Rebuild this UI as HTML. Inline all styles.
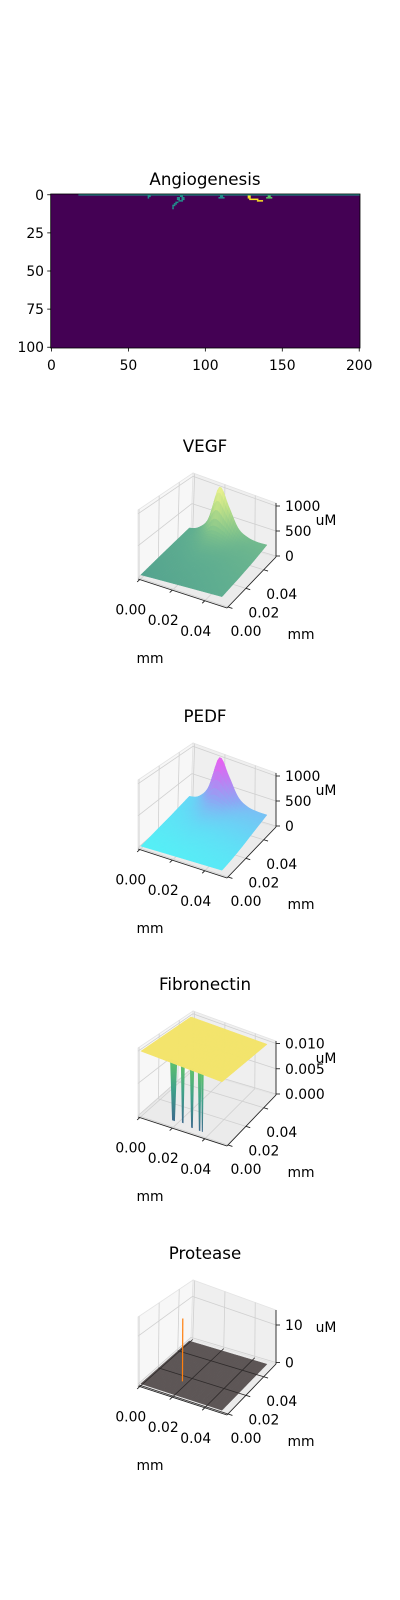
<!DOCTYPE html>
<html><head><meta charset="utf-8"><style>
html,body{margin:0;padding:0;background:#fff;}
svg{display:block;font-family:"DejaVu Sans","Liberation Sans",sans-serif;}
</style></head><body>
<svg id="fig" width="400" height="1600" viewBox="0 0 400 1600" xmlns="http://www.w3.org/2000/svg">
<rect x="0" y="0" width="400" height="1600" fill="#fff"/>
<g id="heat"></g>
<g id="p0"></g>
<g id="p1"></g>
<g id="p2"></g>
<g id="p3"></g>
</svg>
<script>
// ---- heatmap data (runs of nonzero cells: x0, x1, row, value) ----
const heatRunX0 = [18,63,63,84,82,85,82,85,83,81,80,79,79,79,110,109,128,128,129,134,141,140];
const heatRunX1 = [200,64,63,85,83,86,83,86,85,82,81,80,79,79,111,112,129,129,134,137,142,143];
const heatRunY  = [0,1,2,1,2,2,3,3,4,5,6,7,8,9,1,2,1,2,3,4,1,2];
const heatRunV  = [0.5,0.5,0.5,0.5,0.5,0.5,0.5,0.5,0.5,0.5,0.5,0.5,0.5,0.5,0.5,0.5,1,1,1,1,0.75,0.75];
const heatXTicks = [0,50,100,150,200];
const heatYTicks = [0,25,50,75,100];

// ---- surface data: rows are y index 0..8 (y = 0..0.05 mm), columns x index 0..8 ----
const gridX = [0,0.00625,0.0125,0.01875,0.025,0.03125,0.0375,0.04375,0.05];
const gridY = [0,0.00625,0.0125,0.01875,0.025,0.03125,0.0375,0.04375,0.05];
const vegfGrid = [
 [40,50,60,70,80,90,100,110,120],
 [50,60,70,80,90,100,110,120,130],
 [60,70,80,92,100,110,120,130,140],
 [70,80,92,105,112,120,130,140,150],
 [80,92,108,125,130,135,145,155,165],
 [90,105,130,160,160,155,160,170,180],
 [100,125,170,240,230,195,185,190,200],
 [110,150,250,420,380,270,220,215,225],
 [120,190,420,1050,750,400,280,245,250]
];
const pedfGrid = [
 [20,25,30,35,40,45,50,55,60],
 [30,35,40,45,50,55,60,65,70],
 [45,50,55,62,65,70,75,80,85],
 [60,65,75,85,88,90,95,100,105],
 [75,85,100,115,115,115,120,125,130],
 [90,105,135,165,160,150,150,155,160],
 [110,135,185,250,235,195,185,185,190],
 [130,165,275,440,390,280,230,220,220],
 [150,210,450,1040,760,420,290,255,250]
];
const fibroGrid = [
 [0.01,0.01,0.01,0.01,0.01,0.01,0.01,0.01,0.01],
 [0.01,0.01,0.01,0.01,0.01,0.01,0.01,0.01,0.01],
 [0.01,0.01,0.01,0.01,0.01,0.01,0.01,0.01,0.01],
 [0.01,0.01,0.01,0.01,0.01,0.01,0.01,0.01,0.01],
 [0.01,0.01,0.01,0.01,0.01,0.01,0.01,0.01,0.01],
 [0.01,0.01,0.01,0.01,0.01,0.01,0.01,0.01,0.01],
 [0.01,0.01,0.01,0.01,0.01,0.01,0.01,0.01,0.01],
 [0.01,0.01,0.01,0.01,0.01,0.01,0.01,0.01,0.01],
 [0.01,0.01,0.01,0.01,0.01,0.01,0.01,0.01,0.01]
];
const fibroDipX = [0.0175,0.0238,0.0295,0.0345,0.0362];
const fibroDipY = [0.0045,0.0035,0.0035,0.003,0.003];
const fibroDipZ = [0.0,0.0003,0.0,0.0,0.0];
const fibroDipW = [0.0022,0.0012,0.0013,0.0011,0.0008];
const proteaseGrid = [
 [0,0,0,0,0,0,0,0,0],[0,0,0,0,0,0,0,0,0],[0,0,0,0,0,0,0,0,0],
 [0,0,0,0,0,0,0,0,0],[0,0,0,0,0,0,0,0,0],[0,0,0,0,0,0,0,0,0],
 [0,0,0,0,0,0,0,0,0],[0,0,0,0,0,0,0,0,0],[0,0,0,0,0,0,0,0,0]
];
const proteaseSpikeX = [0.0178];
const proteaseSpikeY = [0.0135];
const proteaseSpikeZ = [14];
const xyTicks = [0,0.02,0.04];
const xyTickLabels = ["0.00","0.02","0.04"];
const vegfZTicks = [0,500,1000];
const pedfZTicks = [0,500,1000];
const fibroZTicks = [0,0.005,0.010];
const fibroZLabels = ["0.000","0.005","0.010"];
const proteaseZTicks = [0,10];

const NS = "http://www.w3.org/2000/svg";
function mk(tag, attrs, parent){ const e=document.createElementNS(NS,tag); for(const k in attrs) e.setAttribute(k,attrs[k]); parent.appendChild(e); return e; }
function hex(c){return [parseInt(c.slice(1,3),16),parseInt(c.slice(3,5),16),parseInt(c.slice(5,7),16)];}
function cmap(stops, t){ t=Math.max(0,Math.min(1,t));
  for(let i=1;i<stops.length;i++){ if(t<=stops[i][0]){ const a=stops[i-1],b=stops[i]; const f=(t-a[0])/(b[0]-a[0]); const ca=hex(a[1]),cb=hex(b[1]);
    return "rgb("+ca.map((v,k)=>Math.round(v+(cb[k]-v)*f)).join(",")+")"; } }
  return stops[stops.length-1][1]; }
const viridis=[[0,"#440154"],[0.25,"#3b528b"],[0.5,"#21918c"],[0.75,"#5ec962"],[1,"#fde725"]];

// ---------- heatmap ----------
(function(){
  const g=document.getElementById("heat");
  const X0=50.7,X1=360,Y0=194,Y1=348;
  const sx=v=>X0+(v+0.5)/201*(X1-X0), sy=v=>Y0+(v+0.5)/101*(Y1-Y0);
  const t=mk("text",{x:205,y:185,"text-anchor":"middle","font-size":"16.7"},g); t.textContent="Angiogenesis";
  
  
  const bg=mk("rect",{x:X0,y:Y0,width:X1-X0,height:Y1-Y0,fill:"#440154"},g);
  
  
  for(let i=0;i<heatRunX0.length;i++){
    const r=mk("rect",{x:sx(heatRunX0[i]-0.5),y:sy(heatRunY[i]-0.5),width:sx(heatRunX1[i]+0.5)-sx(heatRunX0[i]-0.5),height:sy(0.5)-sy(-0.5),fill:cmap(viridis,heatRunV[i])},g);
    
    
  }
  const fr=mk("rect",{x:X0,y:Y0,width:X1-X0,height:Y1-Y0,fill:"none",stroke:"#000","stroke-width":0.8},g);
  
  
  heatXTicks.forEach(v=>{ const x=sx(v);
    mk("line",{x1:x,y1:Y1,x2:x,y2:Y1+3.5,stroke:"#000","stroke-width":0.8},g);
    const tx=mk("text",{x:x,y:370,"text-anchor":"middle","font-size":"13.9"},g); tx.textContent=v;
    
    
  });
  heatYTicks.forEach(v=>{ const y=sy(v);
    mk("line",{x1:X0,y1:y,x2:X0-3.5,y2:y,stroke:"#000","stroke-width":0.8},g);
    const tx=mk("text",{x:44,y:y+5,"text-anchor":"end","font-size":"13.9"},g); tx.textContent=v;
    
    
  });
})();

// ---------- 3D panels ----------
const L=[138,579],F=[227,608],R=[276,557],B=[191,532];
const Lt=[138,510],Ft=[227,544],Rt=[276,503],Bt=[193,473];
function bil(a,b,c,d,u,v,k){return a[k]*(1-u)*(1-v)+b[k]*u*(1-v)+c[k]*u*v+d[k]*(1-u)*v;}
function proj(dy,u,v,w){
  const fx=bil(L,F,R,B,u,v,0), fy=bil(L,F,R,B,u,v,1);
  const tx=bil(Lt,Ft,Rt,Bt,u,v,0), ty=bil(Lt,Ft,Rt,Bt,u,v,1);
  return [fx+(tx-fx)*w, fy+(ty-fy)*w+dy];
}
const XMIN=-0.0011, XMAX=0.0537;
const su=x=>(x-XMIN)/(XMAX-XMIN);
function pts(a){return a.map(p=>p[0].toFixed(2)+","+p[1].toFixed(2)).join(" ");}

function cr(p0,p1,p2,p3,t){ // Catmull-Rom
  return 0.5*((2*p1)+(-p0+p2)*t+(2*p0-5*p1+4*p2-p3)*t*t+(-p0+3*p1-3*p2+p3)*t*t*t);
}
function interp(grid,fx,fy){
  const nx=grid[0].length, ny=grid.length;
  const i=Math.min(Math.floor(fx),nx-2), j=Math.min(Math.floor(fy),ny-2);
  const a=fx-i,b=fy-j;
  const gv=(jj,ii)=>grid[Math.max(0,Math.min(ny-1,jj))][Math.max(0,Math.min(nx-1,ii))];
  const rows=[-1,0,1,2].map(d=>cr(gv(j+d,i-1),gv(j+d,i),gv(j+d,i+1),gv(j+d,i+2),a));
  return cr(rows[0],rows[1],rows[2],rows[3],b);
}

function panel(cfg){
  const g=document.getElementById(cfg.id), dy=cfg.dy;
  const sw=z=>(z-cfg.zmin)/(cfg.zmax-cfg.zmin);
  const P=(u,v,w)=>proj(dy,u,v,w);
  const title=mk("text",{x:205,y:452+dy,"text-anchor":"middle","font-size":"16.7"},g); title.textContent=cfg.title;
  
  
  const lp=mk("polygon",{points:pts([P(0,0,0),P(0,1,0),P(0,1,1),P(0,0,1)]),fill:"#f7f7f7",stroke:"#e4e4e4","stroke-width":0.8},g);
  
  
  const bp=mk("polygon",{points:pts([P(0,1,0),P(1,1,0),P(1,1,1),P(0,1,1)]),fill:"#efefef",stroke:"#e4e4e4","stroke-width":0.8},g);
  
  
  const fp=mk("polygon",{points:pts([P(0,0,0),P(1,0,0),P(1,1,0),P(0,1,0)]),fill:"#ebebeb",stroke:"#e4e4e4","stroke-width":0.8},g);
  
  
  const grid=(a,b,col)=>mk("line",{x1:a[0],y1:a[1],x2:b[0],y2:b[1],stroke:col||"#d0d0d0","stroke-width":0.8},g);
  const zt=cfg.zticks.map(sw);
  xyTicks.forEach(t=>{const u=su(t); grid(P(u,1,0),P(u,1,1)); grid(P(0,u,0),P(0,u,1));});
  zt.forEach(w=>{grid(P(0,0,w),P(0,1,w)); grid(P(0,1,w),P(1,1,w));});
  const floorGrid=col=>xyTicks.forEach(t=>{const u=su(t); grid(P(u,0,0),P(u,1,0),col); grid(P(0,u,0),P(1,u,0),col);});
  floorGrid();
  if(cfg.dips){
    for(let k=0;k<fibroDipX.length;k++){
      const u=su(fibroDipX[k]), v=su(fibroDipY[k]), hw=fibroDipW[k]/(XMAX-XMIN);
      const top=sw(0.0098), bot=sw(fibroDipZ[k]);
      const gid=cfg.slug+"g"+k;
      const lg=mk("linearGradient",{id:gid,x1:0,y1:0,x2:0,y2:1},g);
      mk("stop",{offset:0,"stop-color":"#62c46a"},lg); mk("stop",{offset:0.5,"stop-color":"#3fa08a"},lg); mk("stop",{offset:1,"stop-color":"#3c6a8c"},lg);
      const sp=mk("polygon",{points:pts([P(u-hw,v,top),P(u+hw,v,top),P(u+hw*0.4,v,bot),P(u-hw*0.4,v,bot)]),fill:"url(#"+gid+")"},g);
      
      
    }
  }
  const data=cfg.grid, nx=gridX.length-1, ny=gridY.length-1, S=5;
  const quads=[];
  for(let j=0;j<ny*S;j++) for(let i=0;i<nx*S;i++){
    const c=[[i,j],[i+1,j],[i+1,j+1],[i,j+1]].map(([a,b])=>{
      const fx=a/S, fy=b/S;
      const x=gridX[0]+(gridX[nx]-gridX[0])*fx/nx, y=gridY[0]+(gridY[ny]-gridY[0])*fy/ny;
      return {u:su(x),v:su(y),z:interp(data,fx,fy)};
    });
    const zavg=c.reduce((s,p)=>s+p.z,0)/4;
    quads.push({c,zavg,key:(c[0].u+c[2].u)/2-(c[0].v+c[2].v)/2});
  }
  quads.sort((a,b)=>a.key-b.key);
  const sg=mk("g",{},g);
  
  
  quads.forEach(q=>{
    const col=cfg.color(q.zavg);
    const p=mk("polygon",{points:pts(q.c.map(p=>P(p.u,p.v,sw(p.z)))),fill:col,stroke:col,"stroke-width":0.5,"stroke-linejoin":"round"},sg);
    
    
  });
  if(cfg.darkGrid) floorGrid("#2e2a2a");
  if(cfg.spikes){
    for(let k=0;k<proteaseSpikeX.length;k++){
      const u=su(proteaseSpikeX[k]), v=su(proteaseSpikeY[k]);
      const a=P(u,v,sw(0)), b=P(u,v,sw(proteaseSpikeZ[k]));
      const ln=mk("line",{x1:a[0],y1:a[1],x2:b[0],y2:b[1],stroke:"#ff7f0e","stroke-width":1.2},g);
      
      
    }
  }
  const ax=(a,b,name)=>{const l=mk("line",{x1:a[0],y1:a[1],x2:b[0],y2:b[1],stroke:"#222","stroke-width":0.9},g);  };
  ax(P(0,0,0),P(1,0,0),cfg.slug+'-x-axis');
  ax(P(1,0,0),P(1,1,0),cfg.slug+'-y-axis');
  ax(P(1,1,0),P(1,1,1),cfg.slug+'-z-axis');
  xyTicks.forEach((t,k)=>{const u=su(t);
    const a=P(u,0,0), b=P(u,-0.05,0); mk("line",{x1:a[0],y1:a[1],x2:b[0],y2:b[1],stroke:"#222","stroke-width":0.9},g);
    const tx=mk("text",{x:a[0]-9,y:a[1]+35,"text-anchor":"middle","font-size":"13.9"},g); tx.textContent=xyTickLabels[k];
    
    
    const c=P(1,u,0), d=P(1.05,u,0); mk("line",{x1:c[0],y1:c[1],x2:d[0],y2:d[1],stroke:"#222","stroke-width":0.9},g);
    const ty=mk("text",{x:c[0]+18,y:c[1]+29,"text-anchor":"middle","font-size":"13.9"},g); ty.textContent=xyTickLabels[k];
    
    
  });
  cfg.zticks.forEach((t,k)=>{const w=sw(t);
    const a=P(1,1,w); mk("line",{x1:a[0],y1:a[1],x2:a[0]+4,y2:a[1],stroke:"#222","stroke-width":0.9},g);
    const tz=mk("text",{x:a[0]+9,y:a[1]+5,"text-anchor":"start","font-size":"13.9"},g); tz.textContent=cfg.zlabels?cfg.zlabels[k]:String(t);
    
    
  });
  const lab=(x,y,s,n)=>{const e=mk("text",{x:x,y:y+dy,"text-anchor":"middle","font-size":"13.9"},g); e.textContent=s;  };
  lab(150,663,"mm",cfg.slug+'-x-axis-title');
  lab(301,639,"mm",cfg.slug+'-y-axis-title');
  lab(326,525,"uM",cfg.slug+'-z-axis-title');
}

const vegfStops=[[0,"#4f9f8e"],[0.12,"#5fae90"],[0.35,"#84c58b"],[0.7,"#c0e188"],[1,"#eef38e"]];
const pedfStops=[[0,"#52f4f6"],[0.12,"#62dcf6"],[0.35,"#8ca8f4"],[0.7,"#c47af2"],[1,"#ee5cf2"]];
panel({id:"p0",slug:"vegf",title:"VEGF",dy:0,zmin:-20,zmax:1060,zticks:vegfZTicks,grid:vegfGrid,color:z=>cmap(vegfStops,z/1050)});
panel({id:"p1",slug:"pedf",title:"PEDF",dy:270,zmin:-20,zmax:1060,zticks:pedfZTicks,grid:pedfGrid,color:z=>cmap(pedfStops,z/1050)});
panel({id:"p2",slug:"fibronectin",title:"Fibronectin",dy:538,zmin:-0.0002,zmax:0.0105,zticks:fibroZTicks,zlabels:fibroZLabels,grid:fibroGrid,dips:true,color:z=>"#f3e46c"});
panel({id:"p3",slug:"protease",title:"Protease",dy:807,zmin:-0.4,zmax:14,zticks:proteaseZTicks,grid:proteaseGrid,darkGrid:true,spikes:true,color:z=>"#5d5656"});
</script>
</body></html>
